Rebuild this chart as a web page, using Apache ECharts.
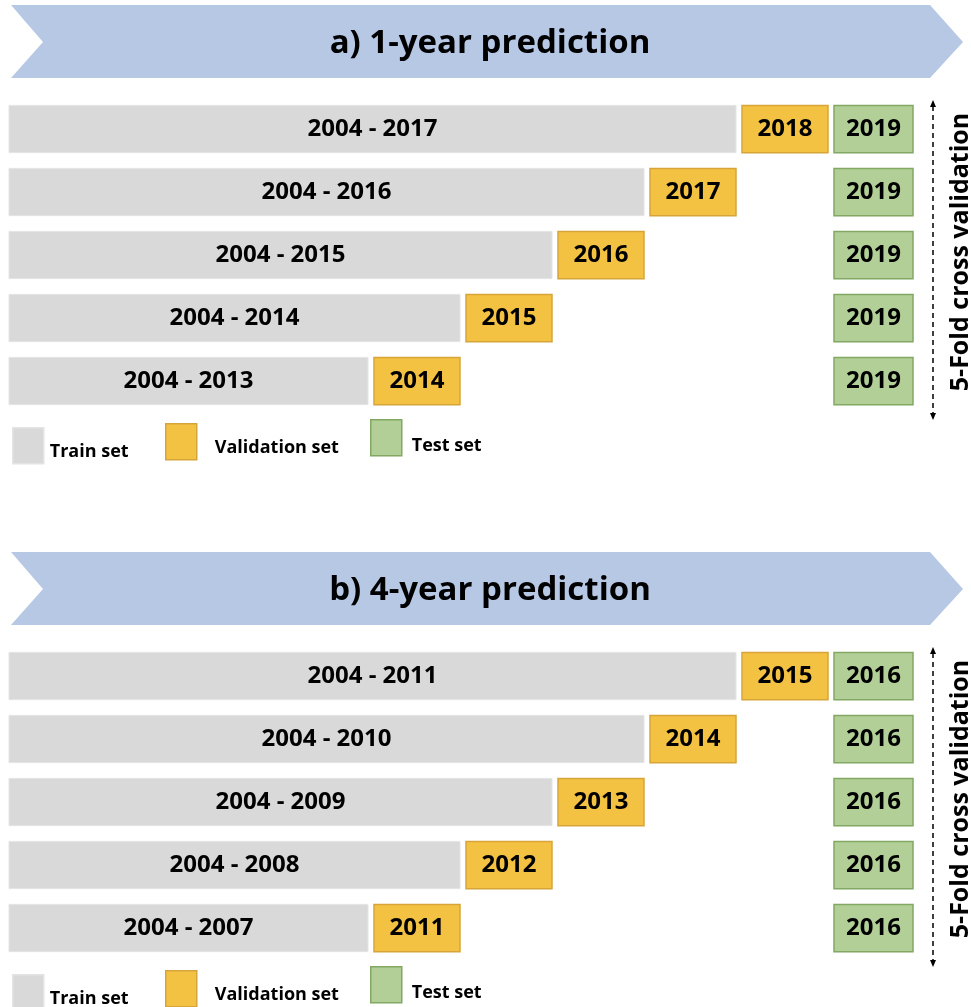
<!DOCTYPE html>
<html>
<head>
<meta charset="utf-8">
<title>Cross validation scheme</title>
<script src="https://cdn.jsdelivr.net/npm/echarts@6/dist/echarts.min.js"></script>
<style>
  html, body { margin: 0; padding: 0; background: #fff; }
  #main { width: 971px; height: 1007px; }
</style>
</head>
<body>
<div id="main"></div>
<script>
// 数据 --------------------------------------------------
var folds = ['fold1', 'fold2', 'fold3', 'fold4', 'fold5'];
var trainStart = 2004;

// a) 1-year prediction
var oneYearTrainEnd = [2017, 2016, 2015, 2014, 2013];
var oneYearVal = [2018, 2017, 2016, 2015, 2014];
var oneYearTest = [2019, 2019, 2019, 2019, 2019];

// b) 4-year prediction
var fourYearTrainEnd = [2011, 2010, 2009, 2008, 2007];
var fourYearVal = [2015, 2014, 2013, 2012, 2011];
var fourYearTest = [2016, 2016, 2016, 2016, 2016];

var panelTitles = ['a) 1-year prediction', 'b) 4-year prediction'];
var sideText = '5-Fold cross validation';
var legendNames = ['Train set', 'Validation set', 'Test set'];

// 样式 --------------------------------------------------
var FONT = '"Open Sans", "Noto Sans", sans-serif';
var grayCol = '#D9D9D9', grayBorder = '#E4E4E4';
var yellowCol = '#F4C242', yellowBorder = '#D6A53A';
var greenCol = '#B1CF96', greenBorder = '#82A864';
var bannerCol = '#B7C8E5';
var OFFSET = 547; // 第二块整体下移

var myChart = echarts.init(document.getElementById('main'));

function boxText(txt) {
  return {
    style: {
      text: txt, fill: '#000', fontFamily: FONT,
      fontWeight: 'bold', fontSize: 24
    }
  };
}

// 训练集: 从轴起点画到验证年
function renderTrain(params, api) {
  var row = api.value(0);
  var end = api.coord([api.value(1), row]);
  var h = api.size([0, 1])[1] * 0.75;
  var x0 = params.coordSys.x + 4;
  return {
    type: 'rect',
    shape: { x: x0, y: end[1] - h / 2, width: end[0] - 5 - x0, height: h },
    style: { fill: api.visual('color'), stroke: grayBorder, lineWidth: 1 },
    textContent: boxText(trainStart + ' - ' + api.value(2)),
    textConfig: { position: 'inside' }
  };
}

function makeBoxRender(stroke, rightInset) {
  return function (params, api) {
    var row = api.value(0);
    var yr = api.value(1);
    var a = api.coord([yr, row]);
    var b = api.coord([yr + 1, row]);
    var h = api.size([0, 1])[1] * 0.75;
    return {
      type: 'rect',
      shape: { x: a[0] + 1, y: a[1] - h / 2, width: b[0] - a[0] - 1 - rightInset, height: h },
      style: { fill: api.visual('color'), stroke: stroke, lineWidth: 1.5 },
      textContent: boxText(String(yr)),
      textConfig: { position: 'inside' }
    };
  };
}

function panelSeries(idx, trainEnd, val, test) {
  return [
    {
      name: 'Train set', type: 'custom', xAxisIndex: idx, yAxisIndex: idx,
      itemStyle: { color: grayCol },
      encode: { x: 1, y: 0 },
      renderItem: renderTrain,
      data: val.map(function (v, i) { return [i, v, trainEnd[i]]; })
    },
    {
      name: 'Validation set', type: 'custom', xAxisIndex: idx, yAxisIndex: idx,
      itemStyle: { color: yellowCol },
      encode: { x: 1, y: 0 },
      renderItem: makeBoxRender(yellowBorder, 5),
      data: val.map(function (v, i) { return [i, v]; })
    },
    {
      name: 'Test set', type: 'custom', xAxisIndex: idx, yAxisIndex: idx,
      itemStyle: { color: greenCol },
      encode: { x: 1, y: 0 },
      renderItem: makeBoxRender(greenBorder, 12),
      data: test.map(function (v, i) { return [i, v]; })
    }
  ];
}

function panelLegends(dy) {
  var lefts = [12, 165, 370];
  var tops = [427, 423, 419];
  var cols = [grayCol, yellowCol, greenCol];
  var borders = [grayBorder, yellowBorder, greenBorder];
  var pads = [[12, 0, 0, 1], [12, 0, 0, 13], [16, 0, 0, 5]];
  return legendNames.map(function (n, k) {
    return {
      left: lefts[k], top: tops[k] + dy, orient: 'horizontal', padding: 0,
      itemWidth: 31, itemHeight: 36, selectedMode: false,
      icon: 'rect',
      data: [{ name: n, itemStyle: { color: cols[k], borderColor: borders[k], borderWidth: 1.5 } }],
      formatter: function (name) { return '{t|' + name + '}'; },
      textStyle: {
        color: '#000',
        rich: { t: { fontFamily: FONT, fontWeight: 'bold', fontSize: 18, color: '#000', padding: pads[k] } }
      }
    };
  });
}

function banner(dy, title) {
  return [
    {
      type: 'polygon',
      shape: { points: [[11, 5 + dy], [930, 5 + dy], [963, 42 + dy], [930, 78 + dy], [11, 78 + dy], [43, 42 + dy]] },
      style: { fill: bannerCol }
    },
    {
      type: 'text', x: 490, y: 44 + dy,
      style: { text: title, fontFamily: FONT, fontWeight: 'bold', fontSize: 33, fill: '#000', align: 'center', verticalAlign: 'middle' }
    }
  ];
}

function sideArrow(dy) {
  return [
    { type: 'line', shape: { x1: 933, y1: 106 + dy, x2: 933, y2: 414 + dy }, style: { stroke: '#000', lineWidth: 1.5, lineDash: [5, 4] } },
    { type: 'polygon', shape: { points: [[930, 107 + dy], [936, 107 + dy], [933, 100 + dy]] }, style: { fill: '#000' } },
    { type: 'polygon', shape: { points: [[930, 413 + dy], [936, 413 + dy], [933, 420 + dy]] }, style: { fill: '#000' } },
    {
      type: 'text', x: 961, y: 252 + dy, rotation: Math.PI / 2,
      style: { text: sideText, fontFamily: FONT, fontWeight: 'bold', fontSize: 25, fill: '#000', align: 'center', verticalAlign: 'middle' }
    }
  ];
}

var hiddenAxis = { show: false };

myChart.setOption({
  backgroundColor: '#fff',
  animation: false,
  grid: [
    { left: 5, right: 0, top: 97.5, height: 315 },
    { left: 5, right: 0, top: 97.5 + OFFSET, height: 315 }
  ],
  xAxis: [
    { type: 'value', gridIndex: 0, min: 2010, max: 2020.5, axisLine: hiddenAxis, axisTick: hiddenAxis, axisLabel: hiddenAxis, splitLine: hiddenAxis },
    { type: 'value', gridIndex: 1, min: 2007, max: 2017.5, axisLine: hiddenAxis, axisTick: hiddenAxis, axisLabel: hiddenAxis, splitLine: hiddenAxis }
  ],
  yAxis: [
    { type: 'category', gridIndex: 0, data: folds, inverse: true, show: false },
    { type: 'category', gridIndex: 1, data: folds, inverse: true, show: false }
  ],
  legend: panelLegends(0).concat(panelLegends(OFFSET)),
  graphic: banner(0, panelTitles[0])
    .concat(banner(OFFSET, panelTitles[1]))
    .concat(sideArrow(0))
    .concat(sideArrow(OFFSET)),
  series: panelSeries(0, oneYearTrainEnd, oneYearVal, oneYearTest)
    .concat(panelSeries(1, fourYearTrainEnd, fourYearVal, fourYearTest))
});
</script>
</body>
</html>
